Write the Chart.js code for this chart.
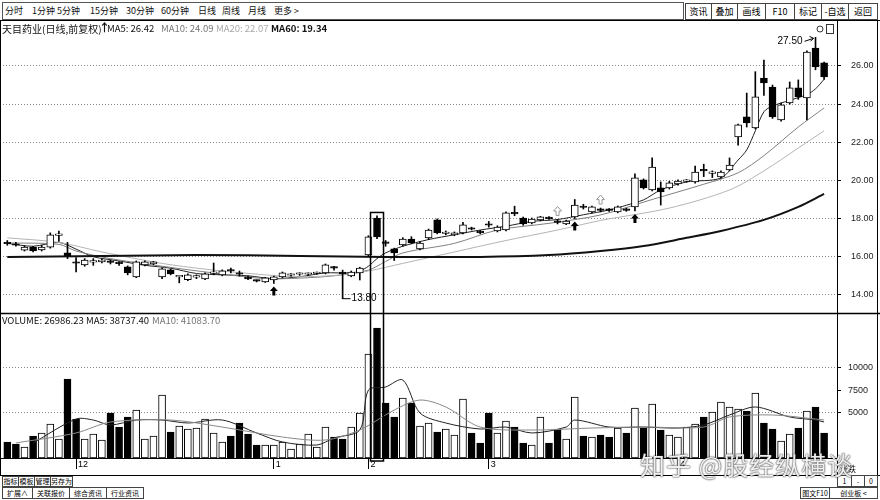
<!DOCTYPE html>
<html lang="zh">
<head>
<meta charset="UTF-8">
<title>天目药业 日线</title>
<script src="https://cdn.jsdelivr.net/npm/chart.js"></script>
<style>
  body { margin:0; background:#fff; font-family:"Noto Sans CJK SC", sans-serif; }
  #wrap { position:relative; width:880px; height:500px; overflow:hidden; background:#fff; }
  #k { position:absolute; left:0; top:20px; }
  .t { position:absolute; white-space:nowrap; font-size:9px; line-height:11px; color:#111; }
  .s { position:absolute; white-space:nowrap; font-size:9.5px; line-height:11px; color:#111; }
  .box { position:absolute; border:1px solid #444; font-size:9px; line-height:10px; text-align:center; box-sizing:border-box; white-space:nowrap; background:#fff; overflow:hidden; }
  .tab { font-size:7px; line-height:9px; }
  #bar { position:absolute; left:2px; top:2px; width:682px; height:18px; border:1px solid #555; box-sizing:border-box; }
  #mark { position:absolute; left:640px; top:446px; font-size:25px; color:rgba(255,255,255,0.92);
          text-shadow:0 0 2px #333, 0 0 1px #333; white-space:nowrap; letter-spacing:1px; }
</style>
</head>
<body>
<div id="wrap">
  <div id="bar"></div>
  <div class="t" style="left:5px;top:5px">分时</div>
  <div class="t" style="left:32px;top:5px">1分钟</div>
  <div class="t" style="left:57px;top:5px">5分钟</div>
  <div class="t" style="left:90px;top:5px">15分钟</div>
  <div class="t" style="left:126px;top:5px">30分钟</div>
  <div class="t" style="left:161px;top:5px">60分钟</div>
  <div class="t" style="left:198px;top:5px">日线</div>
  <div class="t" style="left:222px;top:5px">周线</div>
  <div class="t" style="left:248px;top:5px">月线</div>
  <div class="t" style="left:274px;top:5px">更多 &gt;</div>

  <div class="box" style="left:685px;top:3px;width:27px;height:17px;line-height:15px">资讯</div>
  <div class="box" style="left:711px;top:3px;width:27px;height:17px;line-height:15px">叠加</div>
  <div class="box" style="left:737px;top:3px;width:29px;height:17px;line-height:15px">画线</div>
  <div class="box" style="left:765px;top:3px;width:30px;height:17px;line-height:15px">F10</div>
  <div class="box" style="left:794px;top:3px;width:28px;height:17px;line-height:15px">标记</div>
  <div class="box" style="left:821px;top:3px;width:28px;height:17px;line-height:15px">-自选</div>
  <div class="box" style="left:848px;top:3px;width:30px;height:17px;line-height:15px">返回</div>

  <canvas id="k" width="880" height="456"></canvas>

  <div class="s" style="left:2px;top:23px;font-size:10px">天目药业(日线,前复权)</div>
  <div class="s" style="left:99px;top:22px;font-weight:bold;font-size:11px">↑</div>
  <div class="s" style="left:107px;top:23px">MA5: 26.42</div>
  <div class="s" style="left:161px;top:23px;color:#777">MA10: 24.09</div>
  <div class="s" style="left:216px;top:23px;color:#aaa">MA20: 22.07</div>
  <div class="s" style="left:271px;top:23px;font-weight:bold">MA60: 19.34</div>

  <div class="s" style="left:2px;top:315px">VOLUME: 26986.23</div>
  <div class="s" style="left:86px;top:315px">MA5: 38737.40</div>
  <div class="s" style="left:152px;top:315px;color:#777">MA10: 41083.70</div>

  <div class="box tab" style="left:2px;top:476px;width:17px;height:11px">指标</div>
  <div class="box tab" style="left:18px;top:476px;width:17px;height:11px">模板</div>
  <div class="box tab" style="left:34px;top:476px;width:17px;height:11px">管理</div>
  <div class="box tab" style="left:50px;top:476px;width:23px;height:11px">另存为</div>
  <div class="box tab" style="left:2px;top:487px;width:31px;height:12px;line-height:10px">扩展∧</div>
  <div class="box tab" style="left:32px;top:487px;width:38px;height:12px;line-height:10px">关联报价</div>
  <div class="box tab" style="left:69px;top:487px;width:38px;height:12px;line-height:10px">综合资讯</div>
  <div class="box tab" style="left:106px;top:487px;width:38px;height:12px;line-height:10px">行业资讯</div>
  <div class="box tab" style="left:800px;top:487px;width:30px;height:12px;line-height:10px">图文F10</div>
  <div class="box tab" style="left:829px;top:487px;width:49px;height:12px;line-height:10px">创业板 &lt;</div>
  <div class="box tab" style="left:837px;top:475px;width:15px;height:12px;line-height:10px">1</div>
  <div class="box tab" style="left:851px;top:475px;width:14px;height:12px;line-height:10px">-</div>
  <div class="box tab" style="left:864px;top:475px;width:14px;height:12px;line-height:10px">0</div>
  <div class="s" style="left:840px;top:463px;font-size:8px">涨跌</div>

  <div id="mark">知乎 @股经纵横谈</div>
</div>

<script>
const OPEN  = [16.75,16.66,16.35,16.50,16.36,16.50,17.12,16.20,15.70,15.57,15.72,15.73,15.78,15.70,15.47,14.94,15.57,15.62,14.94,15.31,
               14.94,14.80,14.93,14.84,15.13,15.05,15.28,15.13,14.94,14.76,14.68,14.78,14.94,15.03,15.08,15.08,15.12,15.15,15.44,15.20,
               15.00,15.15,16.09,18.03,16.75,16.41,16.62,16.93,16.41,16.99,17.93,17.22,17.14,17.25,17.50,17.35,17.68,17.35,17.40,18.30,
               18.03,17.77,17.93,18.05,17.84,17.72,18.09,18.63,18.35,18.47,18.47,18.35,18.47,18.61,20.03,19.50,19.61,19.61,19.82,19.95,
               19.92,20.58,20.37,20.18,20.55,22.28,23.33,22.75,25.37,24.90,23.17,24.06,24.85,24.32,26.94,26.16];
const HIGH  = [16.85,16.75,16.58,16.55,16.60,17.25,17.35,16.75,15.95,15.90,15.90,15.88,15.82,15.75,15.52,15.78,15.78,15.76,15.42,15.36,
               14.98,15.10,15.05,15.15,15.67,15.31,15.40,15.25,14.98,14.78,14.92,14.98,15.20,15.12,15.16,15.15,15.20,15.62,15.50,15.30,
               15.25,15.45,17.10,18.15,16.85,16.45,17.00,17.05,16.80,17.45,17.98,17.35,17.30,17.80,17.55,17.38,17.85,17.62,18.35,18.65,
               18.08,18.03,18.12,18.10,17.95,17.92,19.00,18.75,18.66,18.55,18.52,18.66,18.55,20.35,20.08,21.18,19.92,19.95,20.03,20.05,
               20.75,20.85,20.50,20.50,21.18,22.95,24.58,25.70,26.31,25.00,24.05,25.16,25.27,26.80,27.50,26.20];
const LOW   = [16.60,16.55,16.30,16.25,16.30,16.45,16.80,15.90,15.20,15.50,15.55,15.68,15.62,15.55,15.05,14.90,15.52,15.58,14.85,15.05,
               14.63,14.75,14.85,14.80,15.05,15.00,15.15,14.98,14.80,14.68,14.65,14.60,14.90,14.98,15.02,15.03,15.08,15.10,15.30,13.80,
               14.95,14.78,16.00,16.95,16.55,15.80,16.55,16.68,16.36,16.90,17.20,17.15,17.10,17.20,17.40,17.20,17.55,17.30,17.35,18.15,
               17.65,17.72,17.88,17.95,17.72,17.68,18.00,18.50,18.30,18.35,18.38,18.30,18.38,18.40,19.55,19.45,18.71,19.55,19.75,19.90,
               19.85,20.20,20.15,20.10,20.50,21.85,22.80,22.70,24.45,23.25,23.10,24.00,24.25,23.17,25.80,25.30];
const CLOSE = [16.68,16.60,16.50,16.30,16.50,17.15,17.18,16.04,15.66,15.83,15.75,15.83,15.70,15.64,15.15,15.73,15.73,15.73,15.36,15.10,
               14.96,15.05,14.96,15.10,15.16,15.26,15.25,15.08,14.84,14.72,14.89,14.94,15.15,15.06,15.11,15.11,15.15,15.57,15.40,15.10,
               15.20,15.41,17.04,17.04,16.70,16.20,16.93,16.72,16.72,17.40,17.25,17.26,17.25,17.67,17.44,17.25,17.65,17.56,18.30,18.25,
               17.72,17.98,18.09,18.00,17.80,17.87,18.71,18.58,18.61,18.43,18.43,18.61,18.43,20.13,19.61,20.70,19.40,19.87,19.97,19.98,
               20.44,20.50,20.40,20.44,20.81,22.91,23.01,24.38,25.11,23.33,23.96,24.85,24.38,26.73,25.95,25.42];
const VOLUME = [1780,1560,1220,2440,2780,3770,2100,8780,4330,2110,2670,2000,5000,3440,4550,5330,2110,2440,7000,2890,
                3550,3220,3330,4330,2780,1780,2440,3890,2670,1440,1440,1440,1780,1000,1560,2670,1220,3440,2330,2110,
                3440,5000,11550,14440,6110,4550,6670,6110,3550,3890,2890,3220,2560,6550,2780,1670,5000,2780,4110,3440,
                1670,1440,4550,1670,3220,2110,6780,2440,2330,2560,2330,3330,2780,5550,3330,6000,3110,2560,2330,3440,
                3770,4550,5110,6220,5670,5440,5220,7220,3890,3220,1890,2670,3330,5220,5670,2780];

// moving averages: [candle index, value]
const MA5  = [[0,16.70],[3,16.55],[6,16.75],[8,16.40],[10,16.00],[13,15.78],[16,15.55],[19,15.40],[22,15.12],[25,15.05],
              [28,15.00],[31,14.85],[34,14.95],[37,15.15],[40,15.15],[41,15.25],[42,15.50],[43,15.90],[44,16.20],[46,16.55],
              [49,16.90],[52,17.15],[55,17.40],[58,17.60],[61,17.85],[64,17.95],[67,18.20],[70,18.45],[72,18.70],[74,18.98],
              [76,19.50],[79,19.92],[83,20.13],[85,21.07],[86,21.60],[87,22.60],[88,23.60],[89,23.90],[91,24.20],[93,24.50],
              [94,24.80],[95,25.30]];
const MA10 = [[0,16.72],[6,16.65],[8,16.30],[12,15.90],[18,15.50],[24,15.15],[30,14.85],[34,14.88],[38,15.00],[42,15.30],
              [44,15.75],[46,16.20],[52,16.70],[57,17.40],[63,17.75],[69,18.19],[75,19.00],[81,19.80],[85,20.40],[88,21.30],
              [92,22.80],[95,23.80]];
const MA20 = [[0,16.99],[6,16.75],[11,16.25],[18,15.65],[23,15.35],[30,15.05],[34,14.95],[39,15.05],[42,15.25],[46,15.65],
              [52,16.25],[58,16.85],[64,17.40],[69,17.90],[77,18.55],[84,19.50],[88,20.50],[92,21.70],[95,22.60]];
const MA60 = [[0,15.99],[11,16.04],[22,16.09],[34,16.04],[44,15.99],[55,15.99],[63,16.09],[69,16.30],[74,16.56],[79,16.99],
              [83,17.35],[88,17.93],[92,18.61],[95,19.29]];
const VMA5  = [[3,1670],[8,4330],[10,4220],[12,3670],[15,4220],[18,4220],[21,3890],[25,4220],[29,2780],[32,1780],
               [36,1440],[38,2220],[41,3110],[42,7550],[44,7890],[46,8670],[48,5000],[51,3890],[55,3220],[58,3440],
               [61,2780],[65,3440],[66,4220],[70,3440],[74,3440],[78,3330],[81,3670],[84,4780],[87,5670],[91,4560],
               [94,4220],[95,4000]];
const VMA10 = [[1,1670],[8,2780],[12,4000],[19,4220],[25,3440],[32,2330],[37,2000],[41,3110],[45,5330],[48,6440],
               [51,5670],[55,3440],[61,3110],[68,3330],[74,3440],[81,3440],[84,4560],[89,4780],[94,4330],[95,4220]];

const MONTH_AT  = [8, 31, 42, 56, 78];
const MONTH_TXT = ['12', '1', '2', '3', '4'];
const PRICE_TICKS = [14, 15, 16, 17, 18, 19, 20, 21, 22, 23, 24, 25, 26];
const VOL_TICKS = [5000, 7500, 10000];

const UP_MARKS = [31, 66, 73];     // filled arrows under candles
const HOLLOW_MARKS = [64, 69];     // hollow arrows above candles
const LOW_MARK = 39;               // 13.80
const HIGH_MARK = 94;              // 27.50
const BOXED = 43;                  // framed candle

const idx = CLOSE.map((c, i) => i);
const isUp = i => CLOSE[i] >= OPEN[i];
const pts = arr => arr.map(p => ({x: p[0], y: p[1]}));
const noPad = s => { s.paddingTop = 0; s.paddingBottom = 0; s.paddingLeft = 0; s.paddingRight = 0; };

function arrow(ctx, x, tip, filled) {
  ctx.beginPath();
  ctx.moveTo(x, tip);
  ctx.lineTo(x + 4, tip + 4.5);
  ctx.lineTo(x + 1.5, tip + 4.5);
  ctx.lineTo(x + 1.5, tip + 9);
  ctx.lineTo(x - 1.5, tip + 9);
  ctx.lineTo(x - 1.5, tip + 4.5);
  ctx.lineTo(x - 4, tip + 4.5);
  ctx.closePath();
  if (filled) { ctx.fillStyle = '#000'; ctx.fill(); }
  else { ctx.fillStyle = '#fff'; ctx.fill(); ctx.strokeStyle = '#999'; ctx.lineWidth = 1; ctx.stroke(); }
}

const overlay = {
  id: 'overlay',
  afterDraw(chart) {
    const ctx = chart.ctx, a = chart.chartArea;
    const x = chart.scales.x, y = chart.scales.y, v = chart.scales.v;
    const W = chart.width, H = chart.height;
    const line = (x1, y1, x2, y2) => { ctx.beginPath(); ctx.moveTo(x1, y1); ctx.lineTo(x2, y2); ctx.stroke(); };
    ctx.save();
    ctx.strokeStyle = '#000';
    ctx.lineWidth = 1;
    line(0, 0.5, W, 0.5);
    const right = Math.round(a.right) + 0.5;
    line(right, 0, right, H);
    line(0.5, 0, 0.5, H);
    line(W - 2.5, 0, W - 2.5, H);
    line(0, Math.round(a.bottom) + 0.5, right, Math.round(a.bottom) + 0.5);
    line(0, H - 0.5, W, H - 0.5);
    ctx.lineWidth = 1.5;
    line(0, Math.round(y.bottom) + 0.5, W, Math.round(y.bottom) + 0.5);

    // frame around the breakout candle and its volume
    const bx = x.getPixelForValue(BOXED);
    ctx.lineWidth = 1.5;
    ctx.strokeRect(bx - 6.5, y.getPixelForValue(18.32), 13, v.getPixelForValue(0) + 3 - y.getPixelForValue(18.32));

    // low / high labels
    ctx.lineWidth = 1;
    ctx.fillStyle = '#000';
    ctx.font = '10px "Liberation Sans", sans-serif';
    ctx.textBaseline = 'middle';
    const lx = x.getPixelForValue(LOW_MARK), ly = y.getPixelForValue(LOW[LOW_MARK]);
    line(lx, ly, lx + 8, ly);
    ctx.textAlign = 'left';
    ctx.fillText(LOW[LOW_MARK].toFixed(2), lx + 9, ly);
    const hx = x.getPixelForValue(HIGH_MARK), hy = y.getPixelForValue(HIGH[HIGH_MARK]);
    ctx.textAlign = 'right';
    ctx.fillText(HIGH[HIGH_MARK].toFixed(2), hx - 13, hy + 4);
    line(hx - 11, hy + 4, hx - 2, hy + 1);
    line(hx - 2, hy + 1, hx - 6, hy - 1);
    line(hx - 2, hy + 1, hx - 5, hy + 4);

    UP_MARKS.forEach(i => arrow(ctx, x.getPixelForValue(i), y.getPixelForValue(LOW[i]) + 3, true));
    HOLLOW_MARKS.forEach(i => arrow(ctx, x.getPixelForValue(i), y.getPixelForValue(HIGH[i]) - 13, false));

    // little icons top right
    ctx.strokeStyle = '#333';
    ctx.beginPath(); ctx.arc(a.right - 17, 9, 3, 0, Math.PI * 2); ctx.stroke();
    ctx.strokeRect(a.right - 10.5, 4.5, 7, 9);
    ctx.restore();
  }
};

new Chart(document.getElementById('k'), {
  type: 'bar',
  data: {
    datasets: [
      { label: 'body', yAxisID: 'y', order: 1, grouped: false,
        data: idx.map(i => ({x: i, y: [Math.min(OPEN[i], CLOSE[i]), Math.max(OPEN[i], CLOSE[i])]})),
        backgroundColor: c => isUp(c.dataIndex) ? '#fff' : '#000',
        borderColor: '#000', borderWidth: 1, borderSkipped: false, barThickness: 7, minBarLength: 1.5 },
      { label: 'wick', yAxisID: 'y', order: 2, grouped: false,
        data: idx.map(i => ({x: i, y: [LOW[i], HIGH[i]]})),
        backgroundColor: '#000', barThickness: 1 },
      { type: 'line', label: 'MA60', yAxisID: 'y', order: 3, data: pts(MA60),
        borderColor: '#111', borderWidth: 2, pointRadius: 0, tension: 0.3 },
      { type: 'line', label: 'MA20', yAxisID: 'y', order: 3, data: pts(MA20),
        borderColor: '#b4b4b4', borderWidth: 1, pointRadius: 0, tension: 0.3 },
      { type: 'line', label: 'MA10', yAxisID: 'y', order: 3, data: pts(MA10),
        borderColor: '#808080', borderWidth: 1, pointRadius: 0, tension: 0.3 },
      { type: 'line', label: 'MA5', yAxisID: 'y', order: 3, data: pts(MA5),
        borderColor: '#222', borderWidth: 1, pointRadius: 0, tension: 0.3 },
      { label: 'volume', yAxisID: 'v', order: 1, grouped: false,
        data: idx.map(i => ({x: i, y: VOLUME[i]})),
        backgroundColor: c => isUp(c.dataIndex) ? '#fff' : '#000',
        borderColor: '#000', borderWidth: 1, borderSkipped: false, barThickness: 7 },
      { type: 'line', label: 'VMA10', yAxisID: 'v', order: 0, data: pts(VMA10),
        borderColor: '#888', borderWidth: 1, pointRadius: 0, tension: 0.3 },
      { type: 'line', label: 'VMA5', yAxisID: 'v', order: 0, data: pts(VMA5),
        borderColor: '#222', borderWidth: 1, pointRadius: 0, tension: 0.3 }
    ]
  },
  options: {
    responsive: false,
    animation: false,
    layout: { padding: { left: 3, right: 0, top: 0, bottom: 0 } },
    plugins: { legend: { display: false }, tooltip: { enabled: false } },
    scales: {
      x: {
        type: 'linear', min: -0.5, max: 96.5, position: 'bottom', offset: false, bounds: 'data',
        afterBuildTicks: s => { s.ticks = MONTH_AT.map(m => ({value: m})); },
        afterFit: s => { s.height = 18; noPad(s); },
        ticks: { autoSkip: false, maxRotation: 0, align: 'start', padding: -10, labelOffset: 2, color: '#000',
                 font: { size: 9, family: 'Liberation Sans' },
                 callback: val => { const k = MONTH_AT.indexOf(val); return k < 0 ? '' : MONTH_TXT[k]; } },
        grid: { drawOnChartArea: false, offset: false, tickLength: 11, color: '#000', tickColor: '#000' },
        border: { display: false }
      },
      y: {
        type: 'linear', position: 'right', stack: 'k', stackWeight: 293, min: 13.05, max: 28.41,
        afterBuildTicks: s => { s.ticks = PRICE_TICKS.map(p => ({value: p})); },
        afterFit: s => { s.width = 43; noPad(s); },
        ticks: { color: '#222', padding: 10, font: { size: 9, family: 'Liberation Sans' },
                 callback: val => Number(val).toFixed(2) },
        grid: { color: c => (c.tick && c.tick.value % 2 === 0) ? '#8a8a8a' : 'rgba(0,0,0,0)',
                tickColor: '#000', tickLength: 4 },
        border: { display: false, dash: [1, 2] }
      },
      v: {
        type: 'linear', position: 'right', stack: 'k', stackWeight: 145, min: 0, max: 16111,
        afterBuildTicks: s => { s.ticks = VOL_TICKS.map(p => ({value: p})); },
        afterFit: s => { s.width = 43; noPad(s); },
        ticks: { color: '#222', padding: 7, font: { size: 9, family: 'Liberation Sans' },
                 callback: val => String(val) },
        grid: { color: c => (c.tick && c.tick.value % 5000 === 0) ? '#8a8a8a' : 'rgba(0,0,0,0)',
                tickColor: '#000', tickLength: 4 },
        border: { display: false, dash: [1, 2] }
      }
    }
  },
  plugins: [overlay]
});
</script>
</body>
</html>
